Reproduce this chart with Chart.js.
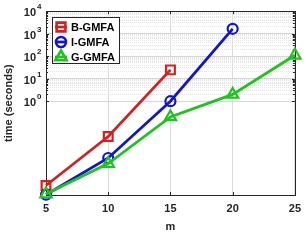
<!DOCTYPE html>
<html>
<head>
<meta charset="utf-8">
<script src="https://cdn.jsdelivr.net/npm/chart.js@4.4.1/dist/chart.umd.min.js"></script>
<style>
html,body{margin:0;padding:0;background:#fff;}
#wrapper{width:308px;height:240px;}
</style>
</head>
<body>
<div id="wrapper"><canvas id="grafico"></canvas></div>
<script>
"use strict";
// dati
const valoriM = [5, 10, 15, 20, 25];
const tickX = [5, 10, 15, 20, 25];
const tickYMaggiori = [1, 10, 100, 1000, 10000];
const esponentiY = ["0", "1", "2", "3", "4"];
const nomiSerie = ["B-GMFA", "I-GMFA", "G-GMFA"];
const tempiB = [1.8e-4, 0.027, 24.7];
const tempiI = [7e-5, 0.003, 1, 1650];
const tempiG = [7.5e-5, 0.0017, 0.2, 2, 110];
const coloriSerie = ["#d42020", "#1414c8", "#1ec41e"];
const formeSerie = ["rect", "circle", "triangle"];
const raggiSerie = [6.2, 5, 6.5];

const font = "'Liberation Sans', Arial, sans-serif";

// tick minori tra 10^0 e 10^4
let tickYTutti = [];
for (let i = 0; i < tickYMaggiori.length; i++) {
    tickYTutti.push(tickYMaggiori[i]);
    if (i < tickYMaggiori.length - 1) {
        for (let k = 2; k <= 9; k++) tickYTutti.push(k * tickYMaggiori[i]);
    }
}

function serie(valori, i) {
    return {
        label: nomiSerie[i],
        data: valori.map((v, j) => ({x: valoriM[j], y: v})),
        borderColor: coloriSerie[i],
        backgroundColor: "rgba(0,0,0,0)",
        borderWidth: 2.8,
        pointStyle: formeSerie[i],
        pointRadius: raggiSerie[i],
        pointBorderWidth: 2.2,
        pointBorderColor: coloriSerie[i],
        pointBackgroundColor: "rgba(0,0,0,0)",
        clip: false,
        order: 2 - i
    };
}

// riquadro e tacche interne stile matlab
const riquadro = {
    id: "riquadro",
    beforeDatasetsDraw(chart) {
        const ctx = chart.ctx;
        const a = chart.chartArea;
        const sx = chart.scales.x, sy = chart.scales.y;
        ctx.save();
        ctx.strokeStyle = "#262626";
        ctx.lineWidth = 1;
        ctx.beginPath();
        for (const t of sx.ticks) {
            let px = Math.round(sx.getPixelForValue(t.value)) + 0.5;
            ctx.moveTo(px, a.bottom); ctx.lineTo(px, a.bottom - 3);
            ctx.moveTo(px, a.top); ctx.lineTo(px, a.top + 3);
        }
        for (const t of sy.ticks) {
            let py = Math.round(sy.getPixelForValue(t.value)) + 0.5;
            let len = tickYMaggiori.includes(t.value) ? 3 : 2;
            ctx.moveTo(a.left, py); ctx.lineTo(a.left + len, py);
            ctx.moveTo(a.right, py); ctx.lineTo(a.right - len, py);
        }
        ctx.stroke();
        ctx.strokeRect(Math.round(a.left) + 0.5, Math.round(a.top) + 0.5,
            Math.round(a.right - a.left), Math.round(a.bottom - a.top));

        // etichette 10^n con apice
        ctx.fillStyle = "#262626";
        ctx.textBaseline = "middle";
        tickYMaggiori.forEach((v, i) => {
            let py = sy.getPixelForValue(v);
            ctx.font = "bold 11px " + font;
            ctx.textAlign = "right";
            ctx.fillText("10", a.left - 10, py + 2);
            ctx.font = "bold 8px " + font;
            ctx.textAlign = "left";
            ctx.fillText(esponentiY[i], a.left - 9, py - 4);
        });
        ctx.restore();
    }
};

const legendaInterna = {
    id: "legendaInterna",
    afterDraw(chart) {
        const ctx = chart.ctx;
        const a = chart.chartArea;
        const x0 = Math.round(a.left) + 6, y0 = Math.round(a.top) + 6;
        ctx.save();
        ctx.fillStyle = "#fff";
        ctx.fillRect(x0, y0, 67, 46);
        ctx.strokeStyle = "#262626";
        ctx.lineWidth = 1;
        ctx.strokeRect(x0 + 0.5, y0 + 0.5, 67, 46);
        chart.data.datasets.forEach((ds, i) => {
            let cy = y0 + 10 + i * 15;
            ctx.strokeStyle = ds.borderColor;
            ctx.lineWidth = ds.borderWidth;
            ctx.beginPath();
            ctx.moveTo(x0 + 3, cy);
            ctx.lineTo(x0 + 15, cy);
            ctx.stroke();
            ctx.lineWidth = 2.6;
            ctx.fillStyle = "rgba(0,0,0,0)";
            Chart.helpers.drawPoint(ctx, {
                pointStyle: ds.pointStyle, radius: ds.pointRadius,
                borderWidth: 2.6, rotation: 0
            }, x0 + 9, cy);
            ctx.fillStyle = "#000";
            ctx.font = "bold 11px " + font;
            ctx.textBaseline = "middle";
            ctx.textAlign = "left";
            ctx.fillText(ds.label, x0 + 19, cy + 0.5);
        });
        ctx.restore();
    }
};

let _canvas = document.getElementById("grafico");
let chart = new Chart(_canvas, {
    type: "line",
    data: {
        datasets: [serie(tempiB, 0), serie(tempiI, 1), serie(tempiG, 2)]
    },
    options: {
        responsive: true,
        maintainAspectRatio: false,
        animation: false,
        layout: {padding: {left: 0, top: 7, right: 8, bottom: 0}},
        plugins: {legend: {display: false}, tooltip: {enabled: false}},
        scales: {
            x: {
                type: "linear",
                min: 5,
                max: 25,
                afterBuildTicks: (scale) => { scale.ticks = tickX.map(v => ({value: v})); },
                afterFit: (scale) => { scale.height = 45; },
                ticks: {
                    color: "#262626",
                    font: {family: font, size: 11, weight: "bold"},
                    padding: 7,
                    maxRotation: 0
                },
                grid: {color: "#dcdcdc", lineWidth: 1, drawTicks: false},
                border: {display: false},
                title: {
                    display: true,
                    text: "m",
                    color: "#262626",
                    font: {family: font, size: 11, weight: "bold"},
                    padding: {top: 0, bottom: 6}
                }
            },
            y: {
                type: "logarithmic",
                min: 6.8e-5,
                max: 10000,
                afterBuildTicks: (scale) => {
                    scale.ticks = tickYTutti.map(v => ({value: v, major: tickYMaggiori.includes(v)}));
                },
                afterFit: (scale) => { scale.width = 46; },
                ticks: {
                    autoSkip: false,
                    display: true,
                    padding: 4,
                    callback: () => ""
                },
                grid: {
                    drawTicks: false,
                    lineWidth: 1,
                    color: (ctx) => tickYMaggiori.includes(ctx.tick.value) ? "#d6d6d6" : "#e4e4e4"
                },
                border: {
                    display: false,
                    dash: (ctx) => (ctx.tick && !tickYMaggiori.includes(ctx.tick.value)) ? [1, 1] : []
                },
                title: {
                    display: true,
                    text: "time (seconds)",
                    color: "#262626",
                    font: {family: font, size: 11, weight: "bold"},
                    padding: {top: 2, bottom: 0}
                }
            }
        }
    },
    plugins: [riquadro, legendaInterna]
});
</script>
</body>
</html>
